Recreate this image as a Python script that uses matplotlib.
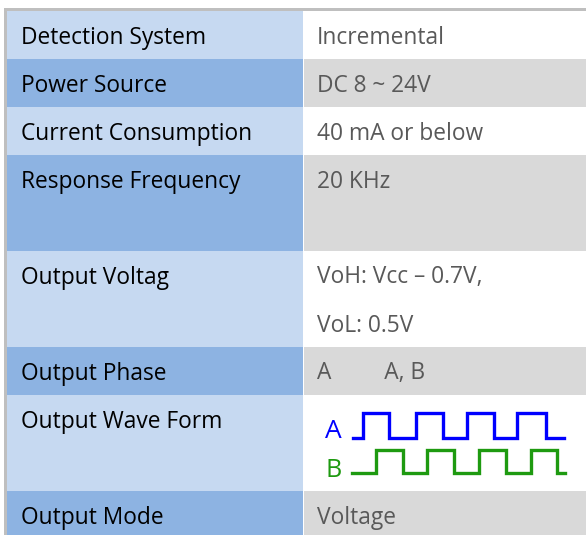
import matplotlib
matplotlib.use("Agg")
import matplotlib.pyplot as plt
from matplotlib.patches import Rectangle

# ---- data ----
labels = ["Detection System", "Power Source", "Current Consumption",
          "Response Frequency", "Output Voltag", "Output Phase",
          "Output Wave Form", "Output Mode"]
values = [["Incremental"], ["DC 8 ~ 24V"], ["40 mA or below"],
          ["20 KHz", ""], ["VoH: Vcc \u2013 0.7V,", "VoL: 0.5V"],
          ["A         A, B"], ["", ""], ["Voltage"]]
# square-wave edge times (arbitrary time units)
wave_a_edges = [1, 11, 37, 64, 91, 115, 142, 165, 194, 212]
wave_b_edges = [0, 24, 51, 75, 102, 127, 154, 179, 205, 213]
wave_names = ["A", "B"]

# ---- style / layout ----
W, H = 586, 535
fig = plt.figure(figsize=(W / 100, H / 100), dpi=100)
ax = fig.add_axes([0, 0, 1, 1])
ax.set_xlim(0, W)
ax.set_ylim(H, 0)
ax.axis("off")

FONT = "Open Sans"
FS = 16.4
line_h = 48
top = 11
x0, xsplit, x1 = 7, 303, 586
left_colors = ["#C6D9F1", "#8DB3E2"]
right_colors = ["#FFFFFF", "#D9D9D9"]
border = "#BFBFBF"

# border
ax.add_patch(Rectangle((4, 8), W - 4, 3, color=border, lw=0))
ax.add_patch(Rectangle((4, 8), 3, H - 8, color=border, lw=0))

y = top
wy = top
for i, (lab, vals) in enumerate(zip(labels, values)):
    h = line_h * len(vals)
    ax.add_patch(Rectangle((x0, y), xsplit - x0, h, color=left_colors[i % 2], lw=0))
    ax.add_patch(Rectangle((xsplit + 1, y), x1 - xsplit - 1, h, color=right_colors[i % 2], lw=0))
    ax.text(21, y + 32.5, lab, fontsize=FS, family=FONT, color="#000000", va="baseline", ha="left")
    for j, v in enumerate(vals):
        ax.text(317, y + 32.5 + j * line_h, v, fontsize=FS, family=FONT, color="#595959",
                va="baseline", ha="left")
    if lab == "Output Wave Form":
        wy = y
    y += h


def square(edges, start, low, high):
    xs, ys = [start + edges[0]], [low]
    level = 0
    for e in edges[1:-1]:
        xs += [start + e, start + e]
        ys += [low if level == 0 else high, high if level == 0 else low]
        level = 1 - level
    xs.append(start + edges[-1]); ys.append(low if level == 0 else high)
    return xs, ys


xa, ya = square(wave_a_edges, 352, wy + 43, wy + 18)
ax.plot(xa, ya, color="#0000FF", lw=2.4, solid_joinstyle="miter")
xb, yb = square(wave_b_edges, 352, wy + 78, wy + 55)
ax.plot(xb, yb, color="#1E9A10", lw=2.4, solid_joinstyle="miter")
ax.text(325, wy + 43, wave_names[0], fontsize=19, family=FONT, color="#0000FF", va="baseline")
ax.text(326, wy + 82, wave_names[1], fontsize=18, family=FONT, color="#1E9A10", va="baseline")

fig.savefig("out.png", dpi=100)
